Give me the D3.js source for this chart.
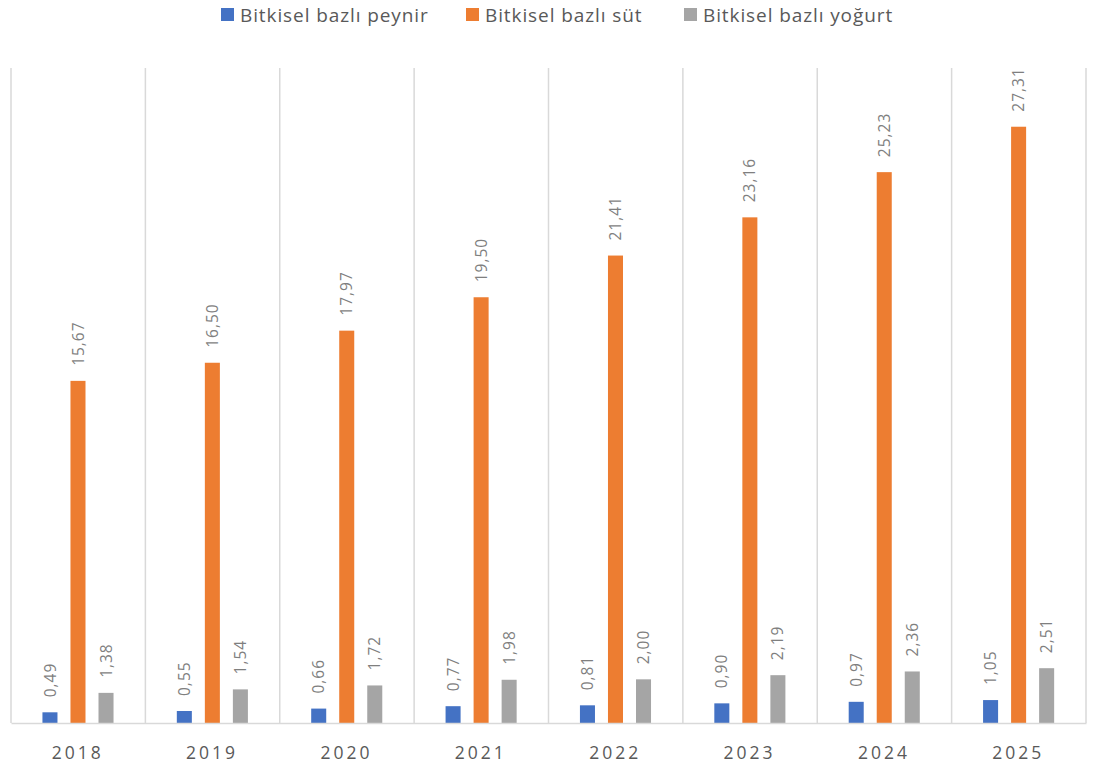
<!DOCTYPE html>
<html>
<head>
<meta charset="utf-8">
<script src="https://cdn.jsdelivr.net/npm/d3@7"></script>
<style>
  html, body { margin: 0; padding: 0; background: #fff; }
  svg { display: block; font-family: "Open Sans", "Noto Sans", sans-serif; }
</style>
</head>
<body>
<svg id="chart" width="1094" height="769"></svg>
<script>
const years = ["2018", "2019", "2020", "2021", "2022", "2023", "2024", "2025"];
const seriesNames = ["Bitkisel bazlı peynir", "Bitkisel bazlı süt", "Bitkisel bazlı yoğurt"];
const peynir = [0.49, 0.55, 0.66, 0.77, 0.81, 0.90, 0.97, 1.05];
const sut = [15.67, 16.50, 17.97, 19.50, 21.41, 23.16, 25.23, 27.31];
const yogurt = [1.38, 1.54, 1.72, 1.98, 2.00, 2.19, 2.36, 2.51];
const colors = ["#4472C4", "#ED7D31", "#A5A5A5"];
const yMax = 30;

const seriesValues = [peynir, sut, yogurt];
const svg = d3.select("#chart");

const x = d3.scaleBand().domain(years).range([11, 1086]).paddingInner(0).paddingOuter(0);
const bw = x.bandwidth();
const xs = d3.scaleBand().domain(seriesNames).range([bw * 0.234, bw * 0.763]).paddingInner(0.464).paddingOuter(0);
const y = d3.scaleLinear().domain([0, yMax]).range([723, 68]);

const fmt = v => d3.format(".2f")(v).replace(".", ",");

// vertical gridlines at category boundaries
const bounds = years.map(d => x(d)).concat([x(years[years.length - 1]) + bw]);
svg.append("g").selectAll("line").data(bounds).join("line")
  .attr("x1", d => d).attr("x2", d => d)
  .attr("y1", y(yMax)).attr("y2", y(0))
  .attr("stroke", "#D9D9D9").attr("stroke-width", 1.5);

// bars
const groups = svg.append("g").selectAll("g").data(years).join("g")
  .attr("transform", d => `translate(${x(d)},0)`);

seriesNames.forEach((name, si) => {
  groups.append("rect")
    .attr("x", xs(name))
    .attr("width", xs.bandwidth())
    .attr("y", (d, i) => y(seriesValues[si][i]))
    .attr("height", (d, i) => y(0) - y(seriesValues[si][i]))
    .attr("fill", colors[si]);
  groups.append("text")
    .attr("transform", (d, i) => `translate(${xs(name) + xs.bandwidth() / 2},${y(seriesValues[si][i]) - 15}) rotate(-90)`)
    .attr("dy", "0.36em")
    .attr("text-anchor", "start")
    .attr("font-size", 15.5)
    .attr("letter-spacing", 1)
    .attr("fill", "#7F7F7F")
    .text((d, i) => fmt(seriesValues[si][i]));
});

// baseline axis
const xAxis = d3.axisBottom(x).tickSize(0).tickPadding(0);
const axisG = svg.append("g").attr("transform", `translate(0,${y(0)})`).call(xAxis);
axisG.select(".domain").attr("stroke", "#D9D9D9").attr("stroke-width", 1.5);
axisG.selectAll("text")
  .attr("y", 36)
  .attr("dy", 0)
  .attr("dx", -0.5)
  .attr("font-family", "'Open Sans', sans-serif")
  .attr("font-size", 17.5)
  .attr("letter-spacing", 3)
  .attr("fill", "#595959");

// legend
const legendX = [221, 466, 684];
const legend = svg.append("g");
seriesNames.forEach((name, si) => {
  legend.append("rect")
    .attr("x", legendX[si]).attr("y", 8)
    .attr("width", 13).attr("height", 13)
    .attr("fill", colors[si]);
  legend.append("text")
    .attr("x", legendX[si] + 19).attr("y", 21.5)
    .attr("font-size", 19)
    .attr("letter-spacing", 0.9)
    .attr("fill", "#595959")
    .text(name);
});
</script>
</body>
</html>
